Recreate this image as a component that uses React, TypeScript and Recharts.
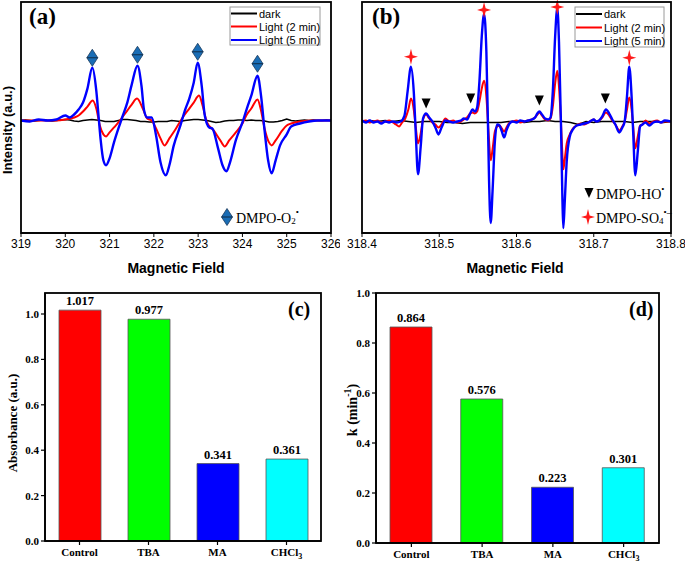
import React from 'react';
import { LineChart, Line, XAxis, YAxis, ReferenceDot, BarChart, Bar, Cell, LabelList } from 'recharts';

type P = [number, number];

const SANS = '"Liberation Sans", Arial, sans-serif';
const SERIF = '"Liberation Serif", "Times New Roman", serif';

// ---------- Panel (a) ----------
const fieldTicksA = [319, 320, 321, 322, 323, 324, 325, 326];
const aDark: P[] = [
  [319.0, 0], [319.1, 0.5], [319.2, 0], [319.3, -0.5], [319.4, 0], [319.5, 0.5], [319.6, 0], [319.7, -0.5], [319.8, 0], [319.9, 0.5],
  [320.0, 1], [320.1, 0.5], [320.2, -0.5], [320.3, -1], [320.4, 0], [320.5, 0.5], [320.6, 1], [320.7, 0.5], [320.8, 0], [320.9, -1],
  [321.0, -1], [321.1, -1], [321.2, 0], [321.3, 1], [321.4, 1], [321.5, 0.5], [321.6, 0], [321.7, -1], [321.8, -1], [321.9, -1.5],
  [322.0, -1.5], [322.1, -1], [322.2, -1], [322.3, -1], [322.4, 0], [322.5, -0.5], [322.6, -1], [322.7, 0], [322.8, 0.5], [322.9, 1],
  [323.0, 1], [323.1, 0.5], [323.2, 0], [323.3, -1], [323.4, -2], [323.5, -1.5], [323.6, -0.5], [323.7, 0], [323.8, 0], [323.9, 0.5],
  [324.0, 0.5], [324.1, 0], [324.2, 0.5], [324.3, 0], [324.4, 0], [324.5, -0.5], [324.6, -1.5], [324.7, -1.5], [324.8, -1], [324.9, 0],
  [325.0, 1.5], [325.1, 0], [325.2, -0.5], [325.3, 0], [325.4, 0.5], [325.5, 0], [325.6, 0.5], [325.7, 0], [325.8, 0], [325.9, 0.5],
  [326.0, 0],
];
const aRed: P[] = [
  [319.0, 0], [319.4, 0], [319.8, 0], [320.0, 1], [320.2, 3], [320.3, 5], [320.4, 9], [320.5, 14], [320.62, 20], [320.7, 12],
  [320.78, -5], [320.86, -14], [320.92, -16], [321.0, -12], [321.1, -7], [321.2, -2], [321.3, 4], [321.4, 10], [321.5, 16],
  [321.62, 22], [321.75, 12], [321.85, 2], [321.95, 0], [322.05, -8], [322.15, -18], [322.24, -25], [322.35, -18], [322.5, -8],
  [322.65, 3], [322.8, 12], [322.9, 18], [323.02, 25], [323.1, 15], [323.2, -2], [323.35, -10], [323.5, -20], [323.6, -26],
  [323.7, -20], [323.85, -12], [324.0, -3], [324.1, 6], [324.2, 12], [324.34, 21], [324.42, 10], [324.5, -8], [324.6, -22],
  [324.66, -25], [324.75, -20], [324.9, -10], [325.0, -5], [325.1, -3], [325.3, -1], [325.6, 0], [326.0, 0],
];
const aBlue: P[] = [
  [319.0, 0], [319.2, -1], [319.4, 1], [319.6, 0], [319.8, 1], [320.0, 5], [320.1, 3], [320.2, 6], [320.3, 11], [320.4, 18],
  [320.5, 32], [320.61, 53], [320.7, 30], [320.75, 5], [320.8, -20], [320.86, -40], [320.92, -45], [321.0, -38], [321.1, -22],
  [321.2, -8], [321.3, 5], [321.4, 18], [321.5, 36], [321.63, 55], [321.72, 35], [321.78, 10], [321.85, 3], [321.95, 3],
  [322.05, -15], [322.15, -42], [322.27, -55], [322.35, -45], [322.45, -25], [322.6, -5], [322.7, 10], [322.8, 22], [322.9, 38],
  [322.99, 58], [323.08, 35], [323.15, 5], [323.25, -7], [323.32, -8], [323.45, -28], [323.55, -45], [323.64, -51], [323.72, -42],
  [323.85, -20], [324.0, -2], [324.1, 12], [324.2, 25], [324.34, 45], [324.42, 25], [324.5, -10], [324.58, -40], [324.66, -53],
  [324.75, -40], [324.85, -25], [325.0, -14], [325.1, -6], [325.3, -3], [325.5, -1], [325.7, 0], [326.0, 0],
];
const aDiamondX = [320.61, 321.63, 322.99, 324.34];
const aDiamondY = [63, 66, 69, 57];

// ---------- Panel (b) ----------
const fieldTicksB = [318.4, 318.5, 318.6, 318.7, 318.8];
const bDark: P[] = [
  [318.40, 0], [318.41, 1], [318.42, 0], [318.43, 1], [318.44, 0], [318.45, 1], [318.46, 0], [318.47, -1], [318.48, 0], [318.49, 0],
  [318.50, 0], [318.51, -1], [318.52, -1], [318.53, -2], [318.54, -1], [318.55, -1], [318.56, -1], [318.57, -1], [318.58, -1], [318.59, 0],
  [318.60, 0], [318.61, -1], [318.62, 0], [318.63, 0], [318.64, 1], [318.65, 0], [318.66, 0], [318.67, -1], [318.68, -3], [318.69, 0],
  [318.70, -1], [318.71, 0], [318.72, 0], [318.73, 0], [318.74, 0], [318.75, -1], [318.76, 0], [318.77, 0], [318.78, 0], [318.79, -1],
  [318.80, 0],
];
const bRed: P[] = [
  [318.400, 0], [318.405, 1], [318.410, -1], [318.415, 0], [318.420, 1], [318.425, -1], [318.430, 0], [318.435, 1], [318.440, -1],
  [318.444, -3], [318.448, -5], [318.452, -1], [318.456, 3], [318.460, 12], [318.4634, 23], [318.467, 12], [318.4695, -5],
  [318.4725, -22], [318.476, -12], [318.479, 2], [318.483, 7], [318.487, 3], [318.491, -1], [318.495, -3], [318.499, -6],
  [318.503, -3], [318.508, 3], [318.513, 0], [318.518, 1], [318.523, -1], [318.528, 0], [318.532, 2], [318.536, 4], [318.540, 8],
  [318.543, 9], [318.546, 8], [318.549, 10], [318.552, 20], [318.555, 33], [318.558, 41], [318.561, 25], [318.563, 0],
  [318.5645, -20], [318.5666, -39], [318.569, -28], [318.572, -10], [318.575, -5], [318.578, -4], [318.581, -7], [318.584, -10],
  [318.587, -6], [318.591, -1], [318.595, 0], [318.600, 1], [318.605, -1], [318.610, 0], [318.615, 1], [318.620, 2], [318.624, 4],
  [318.627, 7], [318.6296, 9], [318.633, 6], [318.637, 2], [318.641, 1], [318.644, 3], [318.647, 15], [318.650, 38], [318.6528, 51],
  [318.655, 35], [318.6575, 0], [318.6595, -35], [318.6606, -48], [318.6625, -38], [318.665, -22], [318.669, -13], [318.673, -7],
  [318.678, -4], [318.683, -2], [318.688, -3], [318.693, -1], [318.697, 1], [318.700, 2], [318.703, 0], [318.707, 1], [318.711, 4],
  [318.7158, 9], [318.720, 6], [318.724, 1], [318.728, -3], [318.733, -9], [318.737, -5], [318.740, 0], [318.743, 12], [318.746, 24],
  [318.749, 12], [318.751, -5], [318.7538, -27], [318.757, -15], [318.760, -4], [318.763, -3], [318.767, 1], [318.772, -2],
  [318.777, 0], [318.782, 1], [318.787, -1], [318.792, 0], [318.800, 0],
];
const bBlue: P[] = [
  [318.400, 1], [318.405, -1], [318.410, 1], [318.415, -1], [318.420, 0], [318.425, -2], [318.430, 0], [318.435, -1], [318.440, 0],
  [318.445, -1], [318.450, 0], [318.455, 6], [318.459, 30], [318.4634, 55], [318.467, 30], [318.4695, -10], [318.4725, -53],
  [318.476, -25], [318.479, 3], [318.483, 8], [318.487, 4], [318.491, 0], [318.495, -6], [318.499, -13], [318.503, -6], [318.508, 1],
  [318.513, 0], [318.518, -1], [318.523, 0], [318.528, 1], [318.532, 3], [318.536, 2], [318.540, 8], [318.543, 12], [318.546, 10],
  [318.549, 14], [318.552, 40], [318.555, 85], [318.558, 108], [318.561, 70], [318.563, 0], [318.5645, -60], [318.5666, -102],
  [318.569, -70], [318.572, -20], [318.575, -3], [318.578, -4], [318.581, -10], [318.584, -16], [318.587, -9], [318.591, -2],
  [318.595, 0], [318.600, -1], [318.605, 1], [318.610, 0], [318.615, 1], [318.620, 2], [318.624, 4], [318.627, 8], [318.6296, 10],
  [318.633, 7], [318.637, 3], [318.641, 2], [318.644, 4], [318.647, 30], [318.650, 85], [318.6528, 114], [318.655, 80],
  [318.6575, 0], [318.6595, -80], [318.6606, -107], [318.6625, -80], [318.665, -40], [318.669, -15], [318.673, -8], [318.678, -4],
  [318.683, -3], [318.688, -2], [318.693, -1], [318.697, 1], [318.700, 2], [318.703, 0], [318.707, 1], [318.711, 5], [318.7158, 12],
  [318.720, 8], [318.724, 2], [318.728, -3], [318.733, -11], [318.737, -6], [318.740, 0], [318.743, 25], [318.746, 55], [318.749, 25],
  [318.751, -10], [318.7538, -54], [318.757, -30], [318.760, -5], [318.763, -3], [318.767, -1], [318.772, -4], [318.777, -1],
  [318.782, 0], [318.787, -1], [318.792, 1], [318.800, 0],
];
const bStarX = [318.4634, 318.558, 318.6528, 318.746];
const bStarY = [65, 112, 115, 64];
const bTriX = [318.483, 318.5407, 318.6296, 318.715];
const bTriY = [18, 23, 21, 23];

// ---------- Panels (c) and (d) ----------
const categories = ['Control', 'TBA', 'MA', 'CHCl3'];
const absorbance = [1.017, 0.977, 0.341, 0.361];
const rateK = [0.864, 0.576, 0.223, 0.301];
const barColors = ['#ff0000', '#00ff00', '#0000ff', '#00ffff'];
const barTicks = [0, 0.2, 0.4, 0.6, 0.8, 1.0];

const seriesNames = ['dark', 'Light (2 min)', 'Light (5 min)'];
const seriesColors = ['#000000', '#ff0000', '#0000ff'];

// plot boxes (pixels) used for layout
const boxA = { l: 21, t: 2, r: 331, b: 233 };
const boxB = { l: 362, t: 2, r: 671, b: 233 };
const boxC = { l: 45, t: 293, r: 321, b: 541 };
const boxD = { l: 376, t: 293, r: 659, b: 543 };

const toPts = (arr: P[]) => arr.map(([x, y]) => ({ x, y }));

const Diamond = (p: any) => {
  const { cx, cy } = p;
  return (
    <g>
      <polygon points={`${cx},${cy - 8.5} ${cx + 5.5},${cy} ${cx},${cy + 8.5} ${cx - 5.5},${cy}`} fill="#1a6db5" stroke="#1b3a5c" strokeWidth={0.8} />
      <line x1={cx - 5.5} y1={cy} x2={cx + 5.5} y2={cy} stroke="#10243a" strokeWidth={0.9} />
    </g>
  );
};
const Star = (p: any) => {
  const { cx, cy } = p;
  const a = 7, w = 1.6;
  return (
    <path d={`M${cx},${cy - a - 1} L${cx + w},${cy - w} L${cx + a},${cy} L${cx + w},${cy + w} L${cx},${cy + a + 1} L${cx - w},${cy + w} L${cx - a},${cy} L${cx - w},${cy - w} Z`} fill="#ff1a1a" />
  );
};
const Tri = (p: any) => {
  const { cx, cy } = p;
  return <polygon points={`${cx - 4.5},${cy - 5} ${cx + 4.5},${cy - 5} ${cx},${cy + 5}`} fill="#000" />;
};

const CatTick = (props: any) => {
  const { x, y, payload } = props;
  const v = String(payload.value);
  const m = v.match(/^(.*[A-Za-z])(\d+)$/);
  const base = m ? m[1] : v;
  const sub = m ? m[2] : null;
  return (
    <text x={x} y={y + 11} textAnchor="middle" fontFamily={SERIF} fontWeight="bold" fontSize={11} fill="#000">
      {base}
      {sub && <tspan dy={3} fontSize={8}>{sub}</tspan>}
    </text>
  );
};

const barLabel = (p: any) => (
  <text x={p.x + p.width / 2} y={p.y - 5} textAnchor="middle" fontFamily={SERIF} fontWeight="bold" fontSize={12.5} fill="#000">
    {Number(p.value).toFixed(3)}
  </text>
);

function SpectrumChart(props: {
  left: number; width: number; height: number; box: { l: number; t: number; r: number; b: number };
  xDomain: [number, number]; ticks: number[]; yDomain: [number, number]; lines: P[][]; digits: number;
  children?: React.ReactNode;
}) {
  const { left, width, height, box, xDomain, ticks, yDomain, lines, digits } = props;
  const margin = { top: box.t, left: box.l - left, right: left + width - box.r, bottom: height - box.b - 20 };
  return (
    <div style={{ position: 'absolute', left, top: 0 }}>
      <LineChart width={width} height={height} margin={margin}>
        <XAxis type="number" dataKey="x" domain={xDomain} ticks={ticks} interval={0} allowDataOverflow height={20}
          tickFormatter={(v: number) => v.toFixed(digits)} tickSize={4} tickMargin={2}
          tick={{ fontFamily: SANS, fontSize: 12, fill: '#000' }} stroke="#000" axisLine={{ stroke: '#000', strokeWidth: 1.5 }}
          tickLine={{ stroke: '#000' }} />
        <YAxis type="number" domain={yDomain} allowDataOverflow hide />
        {lines.map((arr, i) => (
          <Line key={i} data={toPts(arr)} dataKey="y" type={i === 0 ? 'linear' : 'monotone'} stroke={seriesColors[i]}
            strokeWidth={i === 0 ? 1.6 : i === 1 ? 2 : 2.4} dot={false} isAnimationActive={false} />
        ))}
        {props.children}
      </LineChart>
    </div>
  );
}

function BarPanel(props: { left: number; width: number; box: { l: number; t: number; r: number; b: number }; values: number[]; yMax: number }) {
  const { left, width, box, values, yMax } = props;
  const top = 280, height = 287, yw = 30;
  const margin = { top: box.t - top, left: box.l - left - yw, right: left + width - box.r, bottom: top + height - box.b - 20 };
  const data = categories.map((name, i) => ({ name, v: values[i] }));
  return (
    <div style={{ position: 'absolute', left, top }}>
      <BarChart width={width} height={height} data={data} margin={margin}>
        <XAxis dataKey="name" height={20} tickSize={4} tickMargin={0} tickLine={{ stroke: '#000', strokeWidth: 1.2 }}
          axisLine={{ stroke: '#000', strokeWidth: 1.5 }} tick={<CatTick />} interval={0} />
        <YAxis type="number" domain={[0, yMax]} ticks={barTicks} width={yw} allowDataOverflow tickFormatter={(v: number) => v.toFixed(1)}
          tick={{ fontFamily: SERIF, fontWeight: 'bold', fontSize: 11, fill: '#000' }} tickSize={4} tickMargin={2}
          axisLine={{ stroke: '#000', strokeWidth: 1.5 }} tickLine={{ stroke: '#000', strokeWidth: 1.2 }} />
        <Bar dataKey="v" barSize={42} stroke="#555" strokeWidth={0.8} isAnimationActive={false}>
          {data.map((d, i) => <Cell key={d.name} fill={barColors[i]} />)}
          <LabelList dataKey="v" content={barLabel} />
        </Bar>
      </BarChart>
    </div>
  );
}

function LegendBox({ x, y, w, h, rows }: { x: number; y: number; w: number; h: number; rows: number[] }) {
  return (
    <g>
      <rect x={x} y={y} width={w} height={h} fill="#fff" stroke="#9a9a9a" strokeWidth={1} />
      {seriesNames.map((n, i) => (
        <g key={n}>
          <line x1={x + 1} x2={x + 27} y1={rows[i]} y2={rows[i]} stroke={seriesColors[i]} strokeWidth={2} />
          <text x={x + 29} y={rows[i]} dominantBaseline="central" fontFamily={SANS} fontSize={11} fill="#000">{n}</text>
        </g>
      ))}
    </g>
  );
}

const frame = (b: { l: number; t: number; r: number; b: number }) => (
  <rect x={b.l} y={b.t} width={b.r - b.l} height={b.b - b.t} fill="none" stroke="#000" strokeWidth={1.8} />
);

export default function App() {
  return (
    <div style={{ position: 'absolute', left: 0, top: 0, width: 685, height: 567, background: '#fff', overflow: 'hidden' }}>
      <SpectrumChart left={0} width={340} height={280} box={boxA} xDomain={[319, 326]} ticks={fieldTicksA} yDomain={[-113, 119]}
        lines={[aDark, aRed, aBlue]} digits={0}>
        {aDiamondX.map((x, i) => (
          <ReferenceDot key={'d' + i} x={x} y={aDiamondY[i]} r={6} shape={(p: any) => <Diamond cx={p.cx} cy={p.cy} />} />
        ))}
      </SpectrumChart>
      <SpectrumChart left={340} width={345} height={280} box={boxB} xDomain={[318.4, 318.8]} ticks={fieldTicksB} yDomain={[-112, 120]}
        lines={[bDark, bRed, bBlue]} digits={1}>
        {bStarX.map((x, i) => (
          <ReferenceDot key={'s' + i} x={x} y={bStarY[i]} r={6} shape={(p: any) => <Star cx={p.cx} cy={p.cy} />} />
        ))}
        {bTriX.map((x, i) => (
          <ReferenceDot key={'t' + i} x={x} y={bTriY[i]} r={5} shape={(p: any) => <Tri cx={p.cx} cy={p.cy} />} />
        ))}
      </SpectrumChart>
      <BarPanel left={0} width={340} box={boxC} values={absorbance} yMax={1.0925} />
      <BarPanel left={340} width={345} box={boxD} values={rateK} yMax={1.0} />

      <svg width={685} height={567} style={{ position: 'absolute', left: 0, top: 0, pointerEvents: 'none' }}>
        {frame(boxA)}
        {frame(boxB)}
        {frame(boxC)}
        {frame(boxD)}

        {/* panel (a) */}
        <text x={29} y={16} dominantBaseline="central" fontFamily={SERIF} fontWeight="bold" fontSize={23} fill="#000">(a)</text>
        <text x={7} y={130} transform="rotate(-90 7 130)" textAnchor="middle" dominantBaseline="central" fontFamily={SANS} fontWeight="bold" fontSize={13} fill="#000">Intensity (a.u.)</text>
        <text x={176} y={268} textAnchor="middle" dominantBaseline="central" fontFamily={SANS} fontWeight="bold" fontSize={14} fill="#000">Magnetic Field</text>
        <LegendBox x={230} y={7} w={90} h={38} rows={[13.5, 26.5, 40]} />
        <Diamond cx={227} cy={217} />
        <text x={236} y={218} dominantBaseline="central" fontFamily={SERIF} fontSize={14} fill="#000">
          DMPO-O<tspan dy={3} fontSize={9}>2</tspan><tspan dy={-9} fontSize={9}>•</tspan>
        </text>

        {/* panel (b) */}
        <text x={372} y={16} dominantBaseline="central" fontFamily={SERIF} fontWeight="bold" fontSize={23} fill="#000">(b)</text>
        <text x={515} y={268} textAnchor="middle" dominantBaseline="central" fontFamily={SANS} fontWeight="bold" fontSize={14} fill="#000">Magnetic Field</text>
        <LegendBox x={575} y={7} w={89} h={40} rows={[14, 27.5, 41]} />
        <Tri cx={589} cy={193} />
        <text x={596} y={194} dominantBaseline="central" fontFamily={SERIF} fontSize={14} fill="#000">
          DMPO-HO<tspan dy={-5} fontSize={9}>•</tspan>
        </text>
        <Star cx={588} cy={217} />
        <text x={596} y={218} dominantBaseline="central" fontFamily={SERIF} fontSize={14} fill="#000">
          DMPO-SO<tspan dy={3} fontSize={9}>4</tspan><tspan dy={-9} fontSize={9}>•</tspan><tspan fontSize={10}>–</tspan>
        </text>

        {/* panel (c) */}
        <text x={288} y={309} dominantBaseline="central" fontFamily={SERIF} fontWeight="bold" fontSize={20} fill="#000">(c)</text>
        <text x={12} y={423} transform="rotate(-90 12 423)" textAnchor="middle" dominantBaseline="central" fontFamily={SERIF} fontWeight="bold" fontSize={13} fill="#000">Absorbance (a.u.)</text>

        {/* panel (d) */}
        <text x={629} y={309} dominantBaseline="central" fontFamily={SERIF} fontWeight="bold" fontSize={20} fill="#000">(d)</text>
        <text x={352} y={410} transform="rotate(-90 352 410)" textAnchor="middle" dominantBaseline="central" fontFamily={SERIF} fontWeight="bold" fontSize={14} fill="#000">
          k (min<tspan dy={-5} fontSize={10}>-1</tspan><tspan dy={5}>)</tspan>
        </text>
      </svg>
    </div>
  );
}
